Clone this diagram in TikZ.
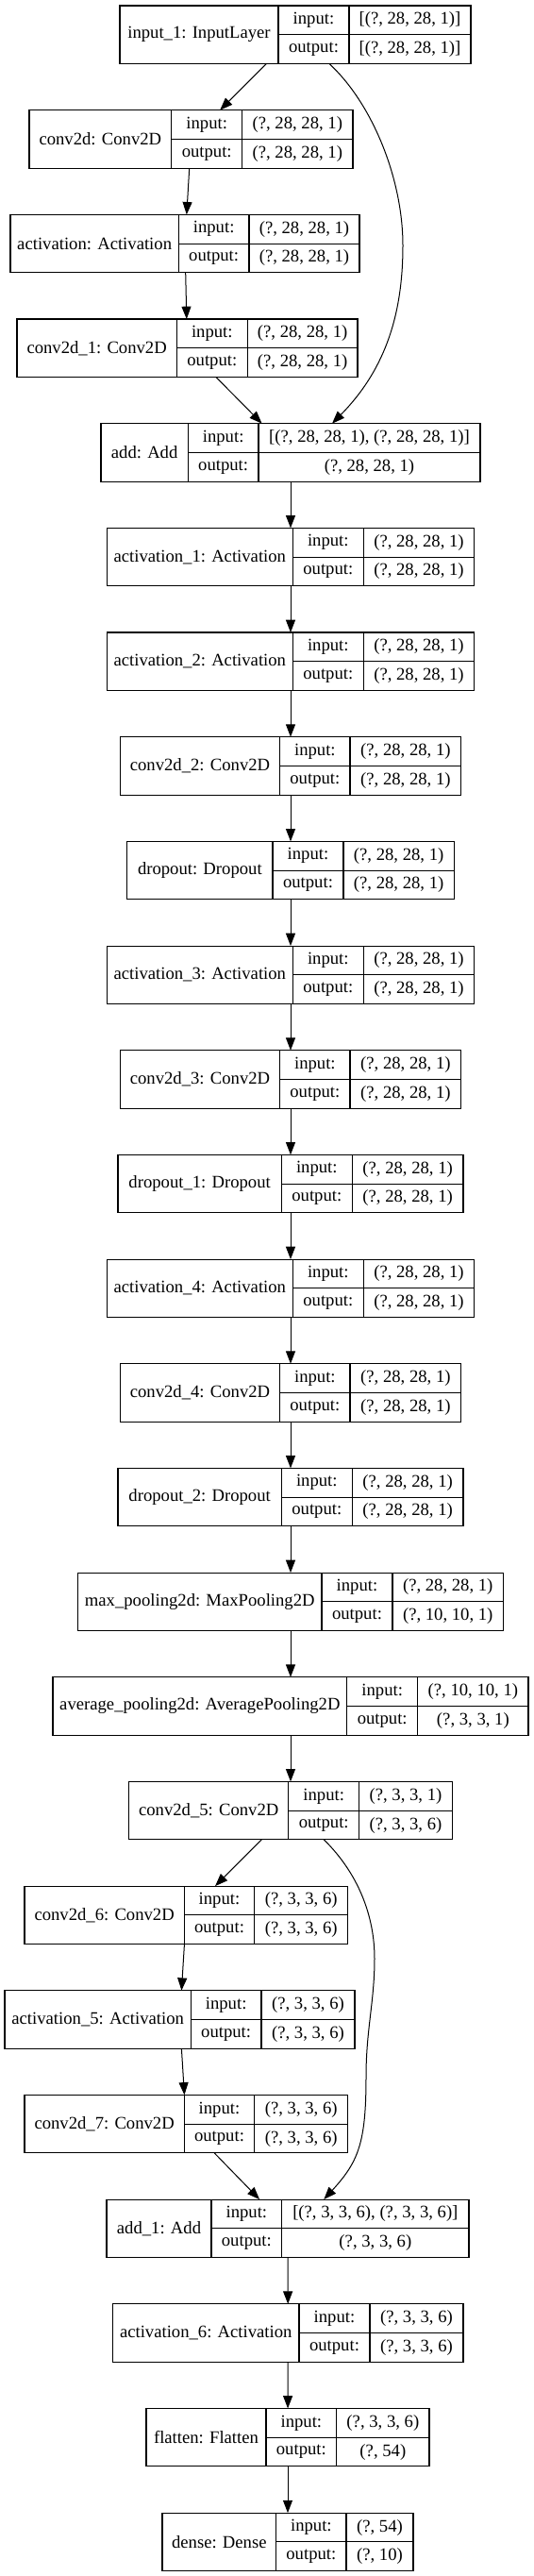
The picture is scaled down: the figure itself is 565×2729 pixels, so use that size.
\documentclass[tikz,border=0pt]{standalone}
\usepackage{fontspec}
\setmainfont{Liberation Serif}
\usetikzlibrary{arrows.meta}
\tikzset{
  box/.style={draw=black, line width=0.8pt, rectangle, inner sep=0pt, outer sep=0pt},
  cell/.style={draw=black, line width=0.8pt},
  txt/.style={inner sep=0pt, font=\fontsize{14}{16}\selectfont},
  arr/.style={draw=black, line width=0.75pt, -{Triangle[length=10pt,width=7.5pt]}},
}
\newcommand{\klayer}[9]{%
  \pgfmathsetmacro{\kty}{6+110.67*#2}%
  \pgfmathsetmacro{\kby}{\kty+61.5}%
  \pgfmathsetmacro{\kmy}{\kty+30.75}%
  \pgfmathsetmacro{\kw}{(#6-#3)*0.75}%
  \node[box, minimum width=\kw pt, minimum height=46.125pt] (#1) at ({(#3+#6)/2},\kmy) {};
  \draw[cell] (#4,\kty) -- (#4,\kby) (#5,\kty) -- (#5,\kby) (#4,\kmy) -- (#6,\kmy);
  \node[txt] (#1-l) at ({(#3+#4)/2},\kmy) {#7};
  \node[txt] (#1-i) at ({(#4+#5)/2},{\kty+15.4}) {input:};
  \node[txt] (#1-o) at ({(#4+#5)/2},{\kty+46.1}) {output:};
  \node[txt] (#1-vi) at ({(#5+#6)/2},{\kty+15.4}) {#8};
  \node[txt] (#1-vo) at ({(#5+#6)/2},{\kty+46.1}) {#9};
}
\begin{document}
\begin{tikzpicture}[x=0.75pt, y=-0.75pt]
\fill[white] (0,0) rectangle (565,2729);
\useasboundingbox (0,0) rectangle (565,2729);
\klayer{input1}{0}{127}{295}{370}{499}{input\_1: InputLayer}{[(?, 28, 28, 1)]}{[(?, 28, 28, 1)]}
\klayer{conv2d}{1}{31}{181.7}{256.7}{374}{conv2d: Conv2D}{(?, 28, 28, 1)}{(?, 28, 28, 1)}
\klayer{act}{2}{11}{189.3}{264}{381}{activation: Activation}{(?, 28, 28, 1)}{(?, 28, 28, 1)}
\klayer{conv2dA}{3}{18}{187.3}{262.3}{379}{conv2d\_1: Conv2D}{(?, 28, 28, 1)}{(?, 28, 28, 1)}
\klayer{add}{4}{107}{199.3}{274}{509}{add: Add}{[(?, 28, 28, 1), (?, 28, 28, 1)]}{(?, 28, 28, 1)}
\klayer{actA}{5}{113.3}{310.3}{385.3}{502.7}{activation\_1: Activation}{(?, 28, 28, 1)}{(?, 28, 28, 1)}
\klayer{actB}{6}{113.3}{310.3}{385.3}{502.7}{activation\_2: Activation}{(?, 28, 28, 1)}{(?, 28, 28, 1)}
\klayer{conv2dB}{7}{127.3}{296.7}{371}{488.7}{conv2d\_2: Conv2D}{(?, 28, 28, 1)}{(?, 28, 28, 1)}
\klayer{drop}{8}{134.7}{289}{364}{481.3}{dropout: Dropout}{(?, 28, 28, 1)}{(?, 28, 28, 1)}
\klayer{actC}{9}{113.3}{310.3}{385.3}{502.7}{activation\_3: Activation}{(?, 28, 28, 1)}{(?, 28, 28, 1)}
\klayer{conv2dC}{10}{127.3}{296.7}{371}{488.7}{conv2d\_3: Conv2D}{(?, 28, 28, 1)}{(?, 28, 28, 1)}
\klayer{dropA}{11}{125}{298.3}{373.3}{491}{dropout\_1: Dropout}{(?, 28, 28, 1)}{(?, 28, 28, 1)}
\klayer{actD}{12}{113.3}{310.3}{385.3}{502.7}{activation\_4: Activation}{(?, 28, 28, 1)}{(?, 28, 28, 1)}
\klayer{conv2dD}{13}{127.3}{296.7}{371}{488.7}{conv2d\_4: Conv2D}{(?, 28, 28, 1)}{(?, 28, 28, 1)}
\klayer{dropB}{14}{125}{298.3}{373.3}{491}{dropout\_2: Dropout}{(?, 28, 28, 1)}{(?, 28, 28, 1)}
\klayer{maxpool}{15}{82.5}{341}{416}{533.5}{max\_pooling2d: MaxPooling2D}{(?, 28, 28, 1)}{(?, 10, 10, 1)}
\klayer{avgpool}{16}{56}{367.7}{442.7}{560}{average\_pooling2d: AveragePooling2D}{(?, 10, 10, 1)}{(?, 3, 3, 1)}
\klayer{conv2dE}{17}{136.7}{305.7}{380.7}{479.3}{conv2d\_5: Conv2D}{(?, 3, 3, 1)}{(?, 3, 3, 6)}
\klayer{conv2dF}{18}{26}{195.3}{269.7}{368.7}{conv2d\_6: Conv2D}{(?, 3, 3, 6)}{(?, 3, 3, 6)}
\klayer{actE}{19}{5}{202.3}{277}{376}{activation\_5: Activation}{(?, 3, 3, 6)}{(?, 3, 3, 6)}
\klayer{conv2dG}{20}{26}{195.3}{269.7}{368.7}{conv2d\_7: Conv2D}{(?, 3, 3, 6)}{(?, 3, 3, 6)}
\klayer{addA}{21}{113}{224}{298.7}{497}{add\_1: Add}{[(?, 3, 3, 6), (?, 3, 3, 6)]}{(?, 3, 3, 6)}
\klayer{actF}{22}{119.5}{317}{392}{491}{activation\_6: Activation}{(?, 3, 3, 6)}{(?, 3, 3, 6)}
\klayer{flatten}{23}{155}{282}{356.7}{455}{flatten: Flatten}{(?, 3, 3, 6)}{(?, 54)}
\klayer{dense}{24}{172}{292.7}{367}{438}{dense: Dense}{(?, 54)}{(?, 10)}
% connectors
\draw[arr] (input1) -- (conv2d);
\draw[arr] (conv2d) -- (act);
\draw[arr] (act) -- (conv2dA);
\draw[arr] (conv2dA) -- (add);
\draw[arr] ([xshift=27pt]input1.south) .. controls (395,110) and (427,190) .. (427,260)
  .. controls (427,330) and (410,390) .. ([xshift=33pt]add.north);
\draw[arr] (add) -- (actA);
\draw[arr] (actA) -- (actB);
\draw[arr] (actB) -- (conv2dB);
\draw[arr] (conv2dB) -- (drop);
\draw[arr] (drop) -- (actC);
\draw[arr] (actC) -- (conv2dC);
\draw[arr] (conv2dC) -- (dropA);
\draw[arr] (dropA) -- (actD);
\draw[arr] (actD) -- (conv2dD);
\draw[arr] (conv2dD) -- (dropB);
\draw[arr] (dropB) -- (maxpool);
\draw[arr] (maxpool) -- (avgpool);
\draw[arr] (avgpool) -- (conv2dE);
\draw[arr] (conv2dE) -- (conv2dF);
\draw[arr] (conv2dF) -- (actE);
\draw[arr] (actE) -- (conv2dG);
\draw[arr] (conv2dG) -- (addA);
\draw[arr] ([xshift=26.5pt]conv2dE.south) .. controls (380,1985) and (397,2030) .. (397,2075)
  .. controls (397,2120) and (388,2150) .. (388,2200)
  .. controls (388,2270) and (380,2290) .. ([xshift=28.7pt]addA.north);
\draw[arr] (addA) -- (actF);
\draw[arr] (actF) -- (flatten);
\draw[arr] (flatten) -- (dense);
\end{tikzpicture}
\end{document}
